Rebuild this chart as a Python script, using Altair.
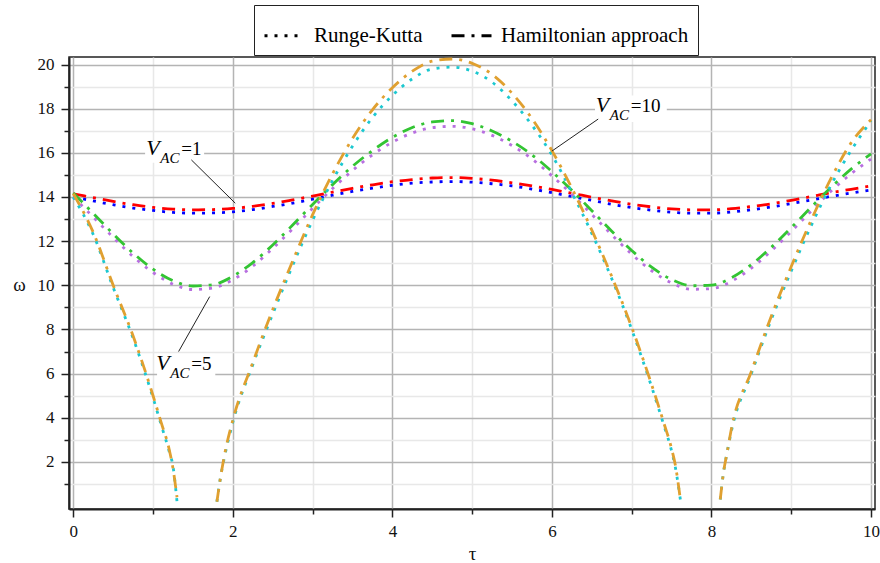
import altair as alt
import pandas as pd

# ---- data -----------------------------------------------------------------
# shared time grid for the curves that stay away from zero
TAU = [0.0, 0.25, 0.5, 0.75, 1.0, 1.25, 1.5, 1.75, 2.0, 2.25, 2.5, 2.75, 3.0,
       3.25, 3.5, 3.75, 4.0, 4.25, 4.5, 4.75, 5.0, 5.25, 5.5, 5.75, 6.0, 6.25,
       6.5, 6.75, 7.0, 7.25, 7.5, 7.75, 8.0, 8.25, 8.5, 8.75, 9.0, 9.25, 9.5,
       9.75, 10.0]

# V_AC = 1
RK_V1 = [14.00, 13.82, 13.65, 13.50, 13.39, 13.30, 13.27, 13.28, 13.33, 13.43,
         13.57, 13.72, 13.90, 14.08, 14.25, 14.40, 14.53, 14.63, 14.68, 14.70,
         14.67, 14.60, 14.50, 14.36, 14.20, 14.02, 13.85, 13.67, 13.52, 13.40,
         13.31, 13.27, 13.27, 13.32, 13.42, 13.55, 13.70, 13.86, 14.03, 14.18,
         14.32]
HAM_V1 = [14.14, 13.97, 13.80, 13.65, 13.53, 13.45, 13.42, 13.43, 13.48, 13.58,
          13.71, 13.87, 14.04, 14.22, 14.39, 14.55, 14.69, 14.79, 14.86, 14.88,
          14.84, 14.76, 14.64, 14.50, 14.34, 14.17, 13.99, 13.82, 13.67, 13.55,
          13.46, 13.42, 13.42, 13.47, 13.57, 13.69, 13.85, 14.02, 14.20, 14.35,
          14.50]

# V_AC = 5
RK_V5 = [14.00, 13.09, 12.17, 11.30, 10.58, 10.05, 9.81, 9.88, 10.25, 10.87,
         11.67, 12.56, 13.49, 14.38, 15.20, 15.91, 16.48, 16.90, 17.14, 17.20,
         17.09, 16.79, 16.33, 15.72, 14.96, 14.12, 13.21, 12.29, 11.41, 10.66,
         10.11, 9.82, 9.85, 10.18, 10.78, 11.56, 12.44, 13.36, 14.27, 15.05,
         15.72]
HAM_V5 = [14.18, 13.26, 12.33, 11.46, 10.73, 10.21, 9.97, 10.03, 10.41, 11.03,
          11.83, 12.73, 13.66, 14.56, 15.39, 16.10, 16.70, 17.15, 17.40, 17.46,
          17.32, 16.99, 16.52, 15.91, 15.15, 14.30, 13.38, 12.45, 11.58, 10.82,
          10.26, 9.98, 10.01, 10.34, 10.94, 11.72, 12.61, 13.54, 14.44, 15.26,
          15.95]

# V_AC = 10 : three branches separated where omega reaches zero
TAU_V10_A = [0.0, 0.25, 0.5, 0.75, 1.0, 1.1, 1.2, 1.25, 1.3]
RK_V10_A = [14.0, 12.3, 9.9, 7.6, 4.9, 3.7, 2.5, 1.8, 0.2]
HAM_V10_A = [14.15, 12.4, 10.0, 7.7, 5.0, 3.8, 2.6, 1.7, 0.4]

TAU_V10_B = [1.8, 1.85, 1.9, 2.0, 2.25, 2.5, 2.75, 3.0, 3.25, 3.5, 3.75, 4.0,
             4.25, 4.5, 4.75, 5.0, 5.25, 5.5, 5.75, 6.0, 6.25, 6.5, 6.75, 7.0,
             7.25, 7.4, 7.5, 7.55, 7.61]
RK_V10_B = [0.2, 1.4, 2.3, 3.8, 6.4, 8.7, 10.9, 12.95, 14.75, 16.3, 17.6, 18.6,
            19.35, 19.8, 19.88, 19.7, 19.2, 18.35, 17.25, 15.9, 14.2, 12.35,
            10.3, 8.0, 5.4, 3.7, 2.5, 1.7, 0.3]
HAM_V10_B = [0.2, 1.4, 2.4, 3.9, 6.5, 8.9, 11.1, 13.2, 15.05, 16.65, 17.95,
             18.95, 19.7, 20.15, 20.25, 20.05, 19.55, 18.7, 17.55, 16.1, 14.4,
             12.5, 10.4, 8.1, 5.5, 3.8, 2.6, 1.8, 0.3]

TAU_V10_C = [8.11, 8.15, 8.2, 8.25, 8.5, 8.75, 9.0, 9.25, 9.5, 9.75, 10.0]
RK_V10_C = [0.3, 1.5, 2.5, 3.4, 6.0, 8.45, 10.65, 12.7, 14.55, 16.1, 17.45]
HAM_V10_C = [0.3, 1.5, 2.5, 3.5, 6.1, 8.6, 10.85, 12.95, 14.85, 16.45, 17.5]

METHODS = ["Runge-Kutta", "Hamiltonian approach"]
CURVES = ["rk1", "ham1", "rk5", "ham5", "rk10", "ham10"]
COLORS = ["#0000ff", "#ff0000", "#b86fe0", "#33c433", "#1cc8d0", "#e0a030"]

# annotation labels  V_AC = ...
ANN_TAU = [0.915, 1.04, 6.55]
ANN_OMEGA = [15.9, 6.18, 17.85]
ANN_VALUE = ["=1", "=5", "=10"]
BOX_TAU = [0.90, 1.05, 6.54]
BOX_TAU2 = [1.64, 1.78, 7.44]
BOX_OMEGA = [15.55, 5.8, 17.4]
BOX_OMEGA2 = [16.55, 6.9, 18.6]
LEAD_TAU = [1.48, 1.71, 6.58]
LEAD_OMEGA = [15.68, 9.49, 17.53]
LEAD_TAU2 = [2.03, 1.32, 6.0]
LEAD_OMEGA2 = [13.72, 7.0, 16.08]

# ---- tables ---------------------------------------------------------------
rows = []


def add(taus, omegas, curve, method, seg):
    for t, w in zip(taus, omegas):
        rows.append({"tau": t, "omega": w, "curve": curve,
                     "method": method, "seg": seg})


add(TAU, RK_V1, "rk1", METHODS[0], "rk1")
add(TAU, HAM_V1, "ham1", METHODS[1], "ham1")
add(TAU, RK_V5, "rk5", METHODS[0], "rk5")
add(TAU, HAM_V5, "ham5", METHODS[1], "ham5")
add(TAU_V10_A, RK_V10_A, "rk10", METHODS[0], "rk10a")
add(TAU_V10_B, RK_V10_B, "rk10", METHODS[0], "rk10b")
add(TAU_V10_C, RK_V10_C, "rk10", METHODS[0], "rk10c")
add(TAU_V10_A, HAM_V10_A, "ham10", METHODS[1], "ham10a")
add(TAU_V10_B, HAM_V10_B, "ham10", METHODS[1], "ham10b")
add(TAU_V10_C, HAM_V10_C, "ham10", METHODS[1], "ham10c")
curves = pd.DataFrame(rows)

ann = pd.DataFrame({
    "tau": ANN_TAU, "omega": ANN_OMEGA, "value": ANN_VALUE,
    "bx": BOX_TAU, "bx2": BOX_TAU2, "by": BOX_OMEGA, "by2": BOX_OMEGA2,
    "lx": LEAD_TAU, "ly": LEAD_OMEGA, "lx2": LEAD_TAU2, "ly2": LEAD_OMEGA2,
})

# ---- scales & axes --------------------------------------------------------
SERIF = "Liberation Serif"
xs = alt.Scale(domain=[-0.054, 10.05], nice=False, zero=False)
ys = alt.Scale(domain=[-0.13, 20.34], nice=False, zero=False)

EVEN = "datum.value % 2 === 0"
grid_color = {"condition": {"test": EVEN, "value": "#b4b4b4"}, "value": "#e8e8e8"}
tick_size = {"condition": {"test": EVEN, "value": 8}, "value": 5}

common_axis = dict(
    labelExpr=f"{EVEN} ? datum.label : ''",
    grid=True, gridColor=grid_color, gridWidth=1.5,
    tickSize=tick_size, tickColor="#222", tickWidth=1.5,
    domainColor="#222", domainWidth=2,
    labelFontSize=17, labelColor="#111",
    titleFontSize=19, titleFontWeight="normal",
    titleColor="#111",
)

x_axis = alt.Axis(values=list(range(0, 11)), labelPadding=6,
                  titleY=44, titleBaseline="middle", **common_axis)
y_axis = alt.Axis(values=list(range(1, 21)), labelPadding=7,
                  titleAngle=0, titleX=-50, titleY=227, titleAlign="center",
                  titleBaseline="middle", **common_axis)


def xenc(field):
    return alt.X(field, type="quantitative", scale=xs, axis=x_axis, title="τ")


def yenc(field):
    return alt.Y(field, type="quantitative", scale=ys, axis=y_axis, title="ω")


# ---- layers ---------------------------------------------------------------
lines = alt.Chart(curves).mark_line(strokeWidth=2.8, interpolate="monotone").encode(
    x=xenc("tau"),
    y=yenc("omega"),
    color=alt.Color("curve:N", scale=alt.Scale(domain=CURVES, range=COLORS),
                    legend=None),
    strokeDash=alt.StrokeDash(
        "method:N",
        scale=alt.Scale(domain=METHODS, range=[[3, 7], [13, 7, 3, 7]]),
        legend=alt.Legend(
            title=None, orient="none", legendX=185, legendY=-52,
            direction="horizontal", strokeColor="#222", fillColor="white",
            padding=9, symbolType="stroke", symbolSize=1600,
            symbolStrokeWidth=3, symbolStrokeColor="black",
            labelFontSize=21, labelColor="black",
            labelOffset=8, columnPadding=22, labelLimit=400,
        ),
    ),
    detail="seg:N",
)

boxes = alt.Chart(ann).mark_rect(fill="white").encode(
    x=xenc("bx"), x2="bx2:Q", y=yenc("by"), y2="by2:Q",
)

leaders = alt.Chart(ann).mark_rule(color="#222", strokeWidth=1).encode(
    x=xenc("lx"), x2="lx2:Q", y=yenc("ly"), y2="ly2:Q",
)

base_text = alt.Chart(ann).encode(x=xenc("tau"), y=yenc("omega"))
v_text = base_text.mark_text(
    text="V", fontStyle="italic", fontSize=22,
    align="left", baseline="alphabetic", color="black")
ac_text = base_text.mark_text(
    text="AC", fontStyle="italic", fontSize=15,
    align="left", baseline="alphabetic", dx=14, dy=8, color="black")
val_text = base_text.mark_text(
    fontSize=19, align="left", baseline="alphabetic",
    dx=35, color="black").encode(text="value:N")

chart = alt.layer(boxes, lines, leaders, v_text, ac_text, val_text).properties(
    width=806, height=452,
    padding={"left": 69, "top": 57, "right": 5, "bottom": 54},
    autosize=alt.AutoSizeParams(type="none"),
).configure(
    background="white", font=SERIF
).configure_axis(
    labelFont=SERIF, titleFont=SERIF
).configure_legend(
    labelFont=SERIF, labelFontSize=21
).configure_text(
    font=SERIF
).configure_view(
    stroke="#222", strokeWidth=1.5
)

chart.save("out.html", embed_options={"renderer": "svg", "actions": False})
